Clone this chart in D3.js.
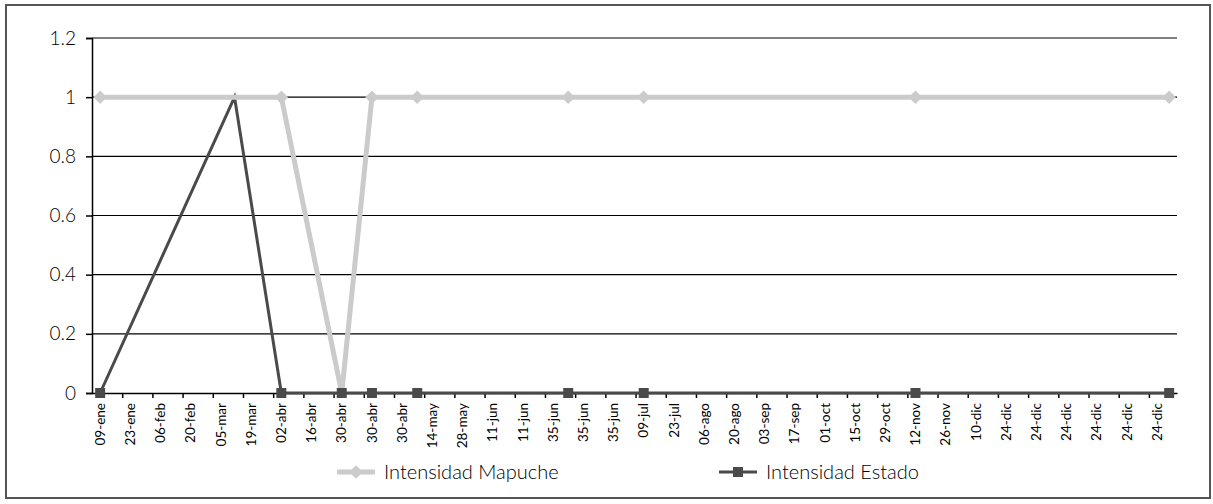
<!DOCTYPE html>
<html>
<head>
<meta charset="utf-8">
<script src="https://cdn.jsdelivr.net/npm/d3@7"></script>
<style>
  body { margin: 0; background: #fff; }
  text { font-family: Lato, "Open Sans", sans-serif; font-weight: 300; fill: #000; }
</style>
</head>
<body>
<div class="chart"></div>
<script>
// category labels along the bottom
let labels = ['09-ene', '23-ene', '06-feb', '20-feb', '05-mar', '19-mar', '02-abr', '16-abr',
  '30-abr', '30-abr', '30-abr', '14-may', '28-may', '11-jun', '11-jun', '35-jun', '35-jun', '35-jun',
  '09-jul', '23-jul', '06-ago', '20-ago', '03-sep', '17-sep', '01-oct', '15-oct', '29-oct',
  '12-nov', '26-nov', '10-dic', '24-dic', '24-dic', '24-dic', '24-dic', '24-dic', '24-dic'];

// position of each point along the category axis (in label units)
let posMapuche = [0, 6, 8, 9, 10.5, 15.5, 18, 27, 35.4];
let valMapuche = [1, 1, 0, 1, 1, 1, 1, 1, 1];

let posEstado = [0, 4.45, 6, 8, 9, 10.5, 15.5, 18, 27, 35.4];
let valEstado = [0, 1, 0, 0, 0, 0, 0, 0, 0, 0];

let yTicks = [0, 0.2, 0.4, 0.6, 0.8, 1, 1.2];

let mapuche = posMapuche.map((p, i) => ({ p: p, v: valMapuche[i] }));
let estado = posEstado.map((p, i) => ({ p: p, v: valEstado[i] }));

let canvas = d3.select('.chart')
  .append('svg')
  .attr('width', 1213)
  .attr('height', 504);

canvas.append('rect')
  .attr('x', 6).attr('y', 5)
  .attr('width', 1204).attr('height', 493)
  .attr('fill', 'none')
  .attr('stroke', '#555')
  .attr('stroke-width', 2);

let pLeft = 92, pRight = 1177, pTop = 38, pBottom = 393;
let off = 0.27; // category boundary offset

let x = d3.scaleLinear().domain([-off, 35.66]).range([pLeft, pRight]);
let y = d3.scaleLinear().domain([0, 1.2]).range([pBottom, pTop]);

// gridlines
canvas.append('g')
  .selectAll('line')
  .data(yTicks.filter(t => t > 0))
  .join('line')
  .attr('x1', pLeft).attr('x2', pRight)
  .attr('y1', d => y(d)).attr('y2', d => y(d))
  .attr('stroke', '#000')
  .attr('stroke-width', 1.2);

// y axis
let yAxis = canvas.append('g')
  .attr('transform', `translate(${pLeft},0)`)
  .call(d3.axisLeft(y).tickValues(yTicks).tickFormat(d => String(+d.toFixed(1))).tickSize(6).tickPadding(10));
yAxis.select('.domain').attr('stroke', '#000').attr('stroke-width', 1.5);
yAxis.selectAll('.tick line').attr('stroke', '#000').attr('stroke-width', 1.5);
yAxis.selectAll('.tick text')
  .attr('font-size', 19)
  .attr('font-family', 'Lato, sans-serif')
  .attr('fill', '#000');

// x axis
let xAxis = canvas.append('g')
  .attr('transform', `translate(0,${pBottom})`)
  .call(d3.axisBottom(x).tickValues(d3.range(1, 36).map(k => k - off)).tickFormat('').tickSize(5).tickSizeOuter(0));
xAxis.select('.domain').attr('stroke', '#000').attr('stroke-width', 1.5);
xAxis.selectAll('.tick line').attr('stroke', '#000').attr('stroke-width', 1.5);

canvas.append('g')
  .selectAll('text')
  .data(labels)
  .join('text')
  .attr('transform', (d, i) => `translate(${x(i)},${pBottom + 10}) rotate(-90)`)
  .attr('text-anchor', 'end')
  .attr('dy', '0.35em')
  .attr('font-size', 13.5)
  .style('font-weight', 400)
  .text(d => d);

let lineFunction = d3.line()
  .x(d => x(d.p))
  .y(d => y(d.v));

let diamond = d3.symbol().type(d3.symbolDiamond2).size(115);
let square = d3.symbol().type(d3.symbolSquare).size(100);

let darkCol = '#4a4a4a', lightCol = '#cbcbcb';

canvas.append('path')
  .attr('d', lineFunction(estado))
  .attr('stroke', darkCol)
  .attr('stroke-width', 3)
  .attr('fill', 'none');

canvas.append('path')
  .attr('d', lineFunction(mapuche))
  .attr('stroke', lightCol)
  .attr('stroke-width', 5)
  .attr('fill', 'none');

canvas.append('g')
  .selectAll('path')
  .data(mapuche.filter(d => d.v > 0))
  .join('path')
  .attr('d', diamond)
  .attr('transform', d => `translate(${x(d.p)},${y(d.v)})`)
  .attr('fill', lightCol);

// the peak marker stays hidden under the light line
canvas.append('g')
  .selectAll('path')
  .data(estado.filter(d => d.v === 0))
  .join('path')
  .attr('d', square)
  .attr('transform', d => `translate(${x(d.p)},${y(d.v)})`)
  .attr('fill', darkCol);

// legend
let legend = [
  { name: 'Intensidad Mapuche', col: lightCol, w: 5, sym: diamond, x: 337 },
  { name: 'Intensidad Estado', col: darkCol, w: 3, sym: square, x: 719 },
];
let ly = 472;
let lg = canvas.append('g')
  .selectAll('g')
  .data(legend)
  .join('g')
  .attr('transform', d => `translate(${d.x},${ly})`);
lg.append('line')
  .attr('x1', 0).attr('x2', 38)
  .attr('stroke', d => d.col)
  .attr('stroke-width', d => d.w);
lg.append('path')
  .attr('d', d => d.sym())
  .attr('transform', 'translate(19,0)')
  .attr('fill', d => d.col);
lg.append('text')
  .attr('x', 47)
  .attr('dy', '0.35em')
  .attr('font-size', 20)
  .text(d => d.name);
</script>
</body>
</html>
